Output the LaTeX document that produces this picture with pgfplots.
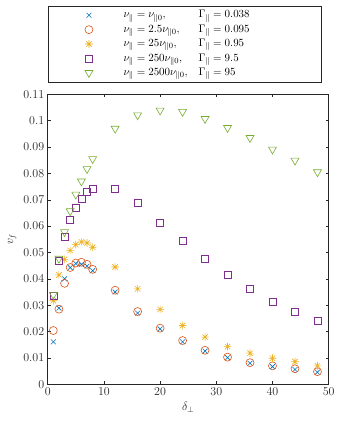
\documentclass[border=0pt]{standalone}
\usepackage{pgfplots}
\pgfplotsset{compat=1.18}
\definecolor{mblue}{rgb}{0,0.447,0.741}
\definecolor{morange}{rgb}{0.85,0.325,0.098}
\definecolor{myellow}{rgb}{0.929,0.694,0.125}
\definecolor{mpurple}{rgb}{0.494,0.184,0.556}
\definecolor{mgreen}{rgb}{0.466,0.674,0.188}
\definecolor{axgray}{rgb}{0.15,0.15,0.15}
\pgfdeclareplotmark{mstar}{%
  \pgfpathmoveto{\pgfqpoint{-\pgfplotmarksize}{0pt}}\pgfpathlineto{\pgfqpoint{\pgfplotmarksize}{0pt}}%
  \pgfpathmoveto{\pgfqpoint{0pt}{-\pgfplotmarksize}}\pgfpathlineto{\pgfqpoint{0pt}{\pgfplotmarksize}}%
  \pgfpathmoveto{\pgfqpoint{-0.707\pgfplotmarksize}{-0.707\pgfplotmarksize}}\pgfpathlineto{\pgfqpoint{0.707\pgfplotmarksize}{0.707\pgfplotmarksize}}%
  \pgfpathmoveto{\pgfqpoint{-0.707\pgfplotmarksize}{0.707\pgfplotmarksize}}\pgfpathlineto{\pgfqpoint{0.707\pgfplotmarksize}{-0.707\pgfplotmarksize}}%
  \pgfusepathqstroke}
\newcommand{\lent}[2]{\makebox[192pt][l]{\makebox[75pt][l]{#1}#2}}
\begin{document}
\begin{tikzpicture}
\begin{axis}[
  scale only axis, width=281pt, height=290pt,
  xmin=0, xmax=50, ymin=0, ymax=0.11,
  xtick={0,10,...,50},
  ytick={0,0.01,0.02,0.03,0.04,0.05,0.06,0.07,0.08,0.09,0.1,0.11},
  scaled y ticks=false,
  yticklabel style={/pgf/number format/fixed, /pgf/number format/precision=2},
  tick align=inside, major tick length=3pt,
  axis line style={axgray, line width=0.5pt},
  every tick/.style={axgray, line width=0.5pt},
  tick label style={text=axgray, font=\fontsize{12}{14}\selectfont},
  xlabel={$\delta_\perp$}, ylabel={$v_f$},
  label style={text=axgray, font=\fontsize{12}{14}\selectfont},
  legend cell align=left,
  legend style={at={(0,1)}, anchor=south west, yshift=12pt, draw=axgray, line width=0.5pt,
    font=\fontsize{10.95}{13}\selectfont, inner xsep=3pt, inner ysep=2pt,
    nodes={inner sep=2.6pt, text height=7.2pt, text depth=2pt}},
  legend image code/.code={\path[draw=none,fill=none] (0pt,-1pt) rectangle (70pt,1pt); \draw[#1, only marks] plot coordinates {(38pt,0pt)};},
  every axis plot/.append style={only marks, line width=0.6pt},
]
\coordinate (O) at (axis cs:0,0);
\addplot[mblue, only marks, mark=x, mark size=3.4pt] coordinates {(1,0.0161)(2,0.0289)(3,0.0400)(4,0.0443)(5,0.0458)(6,0.0455)(7,0.0448)(8,0.0431)(12,0.0350)(16,0.0270)(20,0.0210)(24,0.0161)(28,0.0126)(32,0.0101)(36,0.0080)(40,0.0067)(44,0.0056)(48,0.0046)};
\addlegendentry{\lent{$\nu_\parallel=\nu_{\parallel0}$,}{$\Gamma_\parallel=0.038$}}
\addplot[morange, only marks, mark=o, mark size=4pt] coordinates {(1,0.0204)(2,0.0285)(3,0.0383)(4,0.0443)(5,0.0460)(6,0.0463)(7,0.0455)(8,0.0436)(12,0.0357)(16,0.0276)(20,0.0213)(24,0.0166)(28,0.0129)(32,0.0103)(36,0.0082)(40,0.0070)(44,0.0059)(48,0.0048)};
\addlegendentry{\lent{$\nu_\parallel=2.5\nu_{\parallel0}$,}{$\Gamma_\parallel=0.095$}}
\addplot[myellow, only marks, mark=mstar, mark size=3.8pt] coordinates {(1,0.0317)(2,0.0415)(3,0.0474)(4,0.0508)(5,0.0530)(6,0.0540)(7,0.0536)(8,0.0520)(12,0.0445)(16,0.0362)(20,0.0284)(24,0.0223)(28,0.0179)(32,0.0143)(36,0.0118)(40,0.0099)(44,0.0086)(48,0.0070)};
\addlegendentry{\lent{$\nu_\parallel=25\nu_{\parallel0}$,}{$\Gamma_\parallel=0.95$}}
\addplot[mpurple, only marks, mark=square, mark size=3.5pt] coordinates {(1,0.0335)(2,0.0470)(3,0.0559)(4,0.0624)(5,0.0670)(6,0.0704)(7,0.0730)(8,0.0742)(12,0.0742)(16,0.0688)(20,0.0614)(24,0.0545)(28,0.0475)(32,0.0414)(36,0.0361)(40,0.0314)(44,0.0274)(48,0.0241)};
\addlegendentry{\lent{$\nu_\parallel=250\nu_{\parallel0}$,}{$\Gamma_\parallel=9.5$}}
\addplot[mgreen, only marks, mark=triangle, mark size=4.6pt, mark options={rotate=180}] coordinates {(1,0.0340)(2,0.0477)(3,0.0578)(4,0.0657)(5,0.0720)(6,0.0770)(7,0.0817)(8,0.0855)(12,0.0970)(16,0.1021)(20,0.1039)(24,0.1034)(28,0.1007)(32,0.0973)(36,0.0935)(40,0.0891)(44,0.0849)(48,0.0805)};
\addlegendentry{\lent{$\nu_\parallel=2500\nu_{\parallel0}$,}{$\Gamma_\parallel=95$}}
\end{axis}
\path (O) ++(-47.7pt,-37.7pt) rectangle ++(334pt,422pt);
\end{tikzpicture}
\end{document}
